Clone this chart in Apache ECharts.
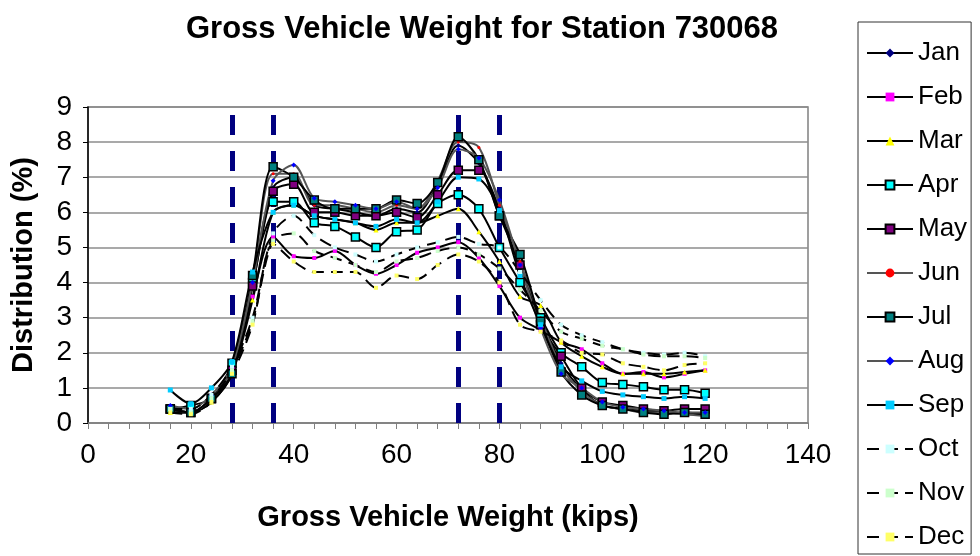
<!DOCTYPE html>
<html>
<head>
<meta charset="utf-8">
<script src="https://cdn.jsdelivr.net/npm/echarts@6/dist/echarts.min.js"></script>
<style>
  html, body { margin: 0; padding: 0; background: #fff; }
  #chart { width: 980px; height: 556px; }
</style>
</head>
<body>
<div id="chart"></div>
<script>
// gross vehicle weight bins (kips)
var weights = [16, 20, 24, 28, 32, 36, 40, 44, 48, 52, 56, 60, 64, 68, 72, 76, 80, 84, 88, 92, 96, 100, 104, 108, 112, 116, 120];

// distribution (%) per month
var jan = [0.3, 0.3, 0.6, 1.4, 3.9, 6.7, 7.0, 6.2, 6.1, 6.0, 5.9, 6.1, 6.0, 6.8, 7.9, 7.4, 6.1, 4.4, 3.0, 1.7, 0.95, 0.5, 0.4, 0.35, 0.3, 0.25, 0.25];
var feb = [0.4, 0.3, 0.7, 1.5, 3.6, 5.3, 4.75, 4.7, 4.9, 4.5, 4.25, 4.5, 4.85, 5.0, 5.15, 4.7, 3.9, 3.0, 2.65, 2.3, 2.1, 1.7, 1.4, 1.45, 1.3, 1.4, 1.5];
var mar = [0.3, 0.3, 0.6, 1.4, 3.5, 6.0, 6.2, 5.9, 5.8, 5.7, 5.5, 5.7, 5.7, 5.9, 6.1, 5.45, 4.6, 3.6, 3.35, 2.3, 1.9, 1.6, 1.4, 1.4, 1.4, 1.45, 1.5];
var apr = [0.4, 0.5, 0.7, 1.7, 4.0, 6.3, 6.3, 5.7, 5.6, 5.3, 5.0, 5.45, 5.5, 6.25, 6.5, 6.1, 5.0, 4.0, 3.0, 2.0, 1.6, 1.15, 1.1, 1.03, 0.95, 0.95, 0.85];
var may = [0.4, 0.3, 0.7, 1.5, 3.9, 6.6, 6.8, 6.0, 6.0, 5.9, 5.9, 6.0, 5.85, 6.5, 7.2, 7.2, 5.9, 4.5, 2.8, 1.9, 1.0, 0.6, 0.5, 0.4, 0.35, 0.4, 0.4];
var jun = [0.4, 0.3, 0.7, 1.5, 4.1, 7.1, 7.1, 6.2, 6.2, 6.1, 6.0, 6.2, 6.1, 6.9, 8.0, 7.85, 6.2, 4.6, 3.0, 1.6, 0.9, 0.5, 0.4, 0.3, 0.3, 0.25, 0.2];
var jul = [0.4, 0.3, 0.7, 1.4, 4.2, 7.3, 7.0, 6.35, 6.1, 6.1, 6.1, 6.35, 6.25, 6.85, 8.15, 7.5, 5.9, 4.8, 2.9, 1.45, 0.8, 0.5, 0.4, 0.3, 0.25, 0.3, 0.25];
var aug = [0.5, 0.4, 0.8, 1.6, 4.0, 6.9, 7.35, 6.4, 6.3, 6.2, 6.1, 6.3, 6.1, 6.7, 7.8, 7.55, 6.35, 4.5, 2.7, 1.4, 1.0, 0.6, 0.45, 0.4, 0.35, 0.3, 0.3];
var sep = [0.94, 0.55, 1.0, 1.75, 4.3, 6.0, 6.2, 5.9, 5.8, 5.7, 5.6, 5.8, 5.7, 6.3, 7.0, 6.95, 6.05, 4.2, 2.8, 1.6, 1.2, 0.9, 0.8, 0.75, 0.7, 0.75, 0.7];
var oct = [0.4, 0.4, 0.8, 1.6, 3.0, 5.4, 5.9, 5.35, 5.0, 4.8, 4.6, 4.8, 5.0, 5.15, 5.3, 5.1, 5.0, 4.3, 3.5, 2.8, 2.5, 2.3, 2.1, 2.0, 1.95, 2.0, 1.9];
var nov = [0.4, 0.3, 0.7, 1.5, 2.9, 5.2, 5.4, 4.9, 4.7, 4.5, 4.3, 4.6, 4.7, 4.9, 5.0, 4.8, 4.4, 3.8, 3.2, 2.6, 2.4, 2.2, 2.1, 1.95, 1.9, 1.9, 1.85];
var dec = [0.3, 0.25, 0.6, 1.4, 2.8, 5.1, 4.6, 4.3, 4.3, 4.3, 3.85, 4.2, 4.1, 4.5, 4.8, 4.6, 4.0, 2.8, 2.6, 2.35, 2.0, 1.95, 1.7, 1.6, 1.5, 1.65, 1.7];

var months = ['Jan', 'Feb', 'Mar', 'Apr', 'May', 'Jun', 'Jul', 'Aug', 'Sep', 'Oct', 'Nov', 'Dec'];
var monthData = [jan, feb, mar, apr, may, jun, jul, aug, sep, oct, nov, dec];

// dashed reference weights
var cutoffs = [28, 36, 72, 80];

var xTicks = [0, 20, 40, 60, 80, 100, 120, 140];
var yTicks = [0, 1, 2, 3, 4, 5, 6, 7, 8, 9];

// marker / line look per month (Excel-ish)
var looks = [
    { symbol: 'diamond',  size: 5, fill: '#000080', border: null,   line: '#000', dash: 'solid' },
    { symbol: 'rect',     size: 4, fill: '#ff00ff', border: null,   line: '#000', dash: 'solid' },
    { symbol: 'triangle', size: 5, fill: '#ffff00', border: null,   line: '#000', dash: 'solid' },
    { symbol: 'rect',     size: 8, fill: '#00ffff', border: '#000', line: '#000', dash: 'solid' },
    { symbol: 'rect',     size: 8, fill: '#800080', border: '#000', line: '#000', dash: 'solid' },
    { symbol: 'circle',   size: 3, fill: '#ff0000', border: null,   line: '#555', dash: 'solid' },
    { symbol: 'rect',     size: 8, fill: '#008080', border: '#000', line: '#000', dash: 'solid' },
    { symbol: 'diamond',  size: 5, fill: '#0000ff', border: null,   line: '#555', dash: 'solid' },
    { symbol: 'rect',     size: 5, fill: '#00ccff', border: null,   line: '#000', dash: 'solid' },
    { symbol: 'rect',     size: 4, fill: '#ccffff', border: null,   line: '#000', dash: [12, 7] },
    { symbol: 'rect',     size: 4, fill: '#ccffcc', border: null,   line: '#000', dash: [12, 7] },
    { symbol: 'rect',     size: 4, fill: '#ffff66', border: null,   line: '#000', dash: [12, 7] }
];

var font = 'Liberation Sans, Arial, sans-serif';

var series = months.map(function (m, i) {
    var lk = looks[i];
    var s = {
        name: m,
        type: 'line',
        smooth: 0.3,
        symbol: lk.symbol,
        symbolSize: lk.size,
        showAllSymbol: true,
        data: weights.map(function (w, k) { return [w, monthData[i][k]]; }),
        lineStyle: { color: lk.line, width: 2, type: lk.dash },
        itemStyle: {
            color: lk.fill,
            borderColor: lk.border || lk.fill,
            borderWidth: lk.border ? 1.5 : 0
        },
        emphasis: { disabled: true },
        z: 3
    };
    if (i === 0) {
        s.markLine = {
            silent: true,
            symbol: 'none',
            label: { show: false },
            lineStyle: { color: '#000080', width: 5, type: [20, 16] },
            data: cutoffs.map(function (c) { return { xAxis: c }; }),
            z: 2
        };
    }
    return s;
});

var chart = echarts.init(document.getElementById('chart'));
chart.setOption({
    animation: false,
    backgroundColor: '#fff',
    title: {
        text: 'Gross Vehicle Weight for Station 730068',
        left: 181,
        top: 9,
        textStyle: { fontFamily: font, fontWeight: 'bold', fontSize: 31, color: '#000' }
    },
    legend: {
        orient: 'vertical',
        left: 858,
        top: 22,
        padding: [18, 4, 4, 8],
        itemWidth: 46,
        itemHeight: 11,
        itemGap: 18,
        borderColor: '#333',
        borderWidth: 1,
        data: months,
        textStyle: { fontFamily: font, fontSize: 26, color: '#000' }
    },
    grid: {
        left: 88,
        right: 172,
        top: 107,
        bottom: 133,
        outerBoundsMode: 'none',
        show: true,
        borderColor: '#808080',
        borderWidth: 1.5
    },
    xAxis: {
        type: 'value',
        min: xTicks[0],
        max: xTicks[xTicks.length - 1],
        interval: 20,
        name: 'Gross Vehicle Weight (kips)',
        nameLocation: 'middle',
        nameGap: 80,
        nameTextStyle: { fontFamily: font, fontWeight: 'bold', fontSize: 29, color: '#000' },
        axisLine: { lineStyle: { color: '#808080', width: 1.5 } },
        axisTick: { length: 6, lineStyle: { color: '#808080' } },
        minorTick: { show: true, splitNumber: 5, length: 6, lineStyle: { color: '#808080' } },
        splitLine: { show: false },
        axisLabel: { fontFamily: font, fontSize: 28, color: '#000', margin: 18 }
    },
    yAxis: {
        type: 'value',
        min: yTicks[0],
        max: yTicks[yTicks.length - 1],
        interval: 1,
        name: 'Distribution (%)',
        nameLocation: 'middle',
        nameGap: 50,
        nameTextStyle: { fontFamily: font, fontWeight: 'bold', fontSize: 29, color: '#000' },
        axisLine: { show: true, lineStyle: { color: '#000', width: 1.5 } },
        axisTick: { show: true, length: 5, lineStyle: { color: '#000' } },
        splitLine: { lineStyle: { color: '#8c8c8c', width: 1.5 } },
        axisLabel: { fontFamily: font, fontSize: 28, color: '#000', margin: 16 }
    },
    series: series
});
</script>
</body>
</html>
